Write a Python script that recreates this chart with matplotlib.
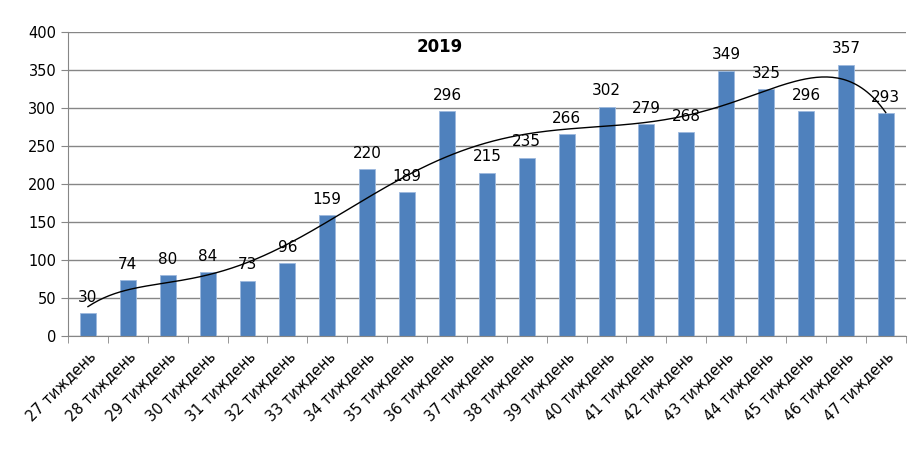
import numpy as np
import matplotlib
matplotlib.use("Agg")
import matplotlib.pyplot as plt

# weekly counts, 2019
weeks = [f"{w} тиждень" for w in range(27, 48)]
values = [30, 74, 80, 84, 73, 96, 159, 220, 189, 296, 215, 235, 266, 302, 279, 268, 349, 325, 296, 357, 293]
title = "2019"

plt.rcParams['font.family'] = ['DejaVu Sans']

fig = plt.figure(figsize=(9.13, 4.58), dpi=100)
ax = fig.add_axes([0.0745, 0.266, 0.9175, 0.664])

x = np.arange(len(values))
ax.bar(x, values, width=0.4, color="#4F81BD", edgecolor="#9DB9DE", linewidth=0.6, zorder=2)

for xi, v in zip(x, values):
    ax.text(xi, v + 11, str(v), ha="center", va="bottom", fontsize=11, zorder=4)

# polynomial trendline (order 6), like the Excel one
coef = np.polyfit(x, values, 6)
xs = np.linspace(0, len(values) - 1, 300)
ax.plot(xs, np.polyval(coef, xs), color="black", linewidth=1, zorder=3)

ax.set_xlim(-0.5, len(values) - 0.5)
ax.set_ylim(0, 400)
ax.set_yticks(range(0, 401, 50))
ax.yaxis.grid(True, color="#868686", linewidth=1)
ax.set_axisbelow(True)

ax.set_xticks(x)
ax.set_xticklabels(weeks, rotation=45, ha="right", rotation_mode="anchor", fontsize=10.5)
ax.tick_params(axis="x", length=0, pad=9)
ax.set_xticks(np.arange(-0.5, len(values)), minor=True)
ax.tick_params(axis="x", which="minor", length=5, color="#868686")
ax.tick_params(axis="y", length=5, color="#868686", labelsize=10.5)

for s in ["top", "right"]:
    ax.spines[s].set_visible(False)
ax.spines["left"].set_color("#868686")
ax.spines["bottom"].set_color("#868686")

ax.text(0.444, 0.95, title, transform=ax.transAxes, ha="center", va="center",
        fontsize=12, fontweight="bold")

fig.savefig("out.png", dpi=100)
